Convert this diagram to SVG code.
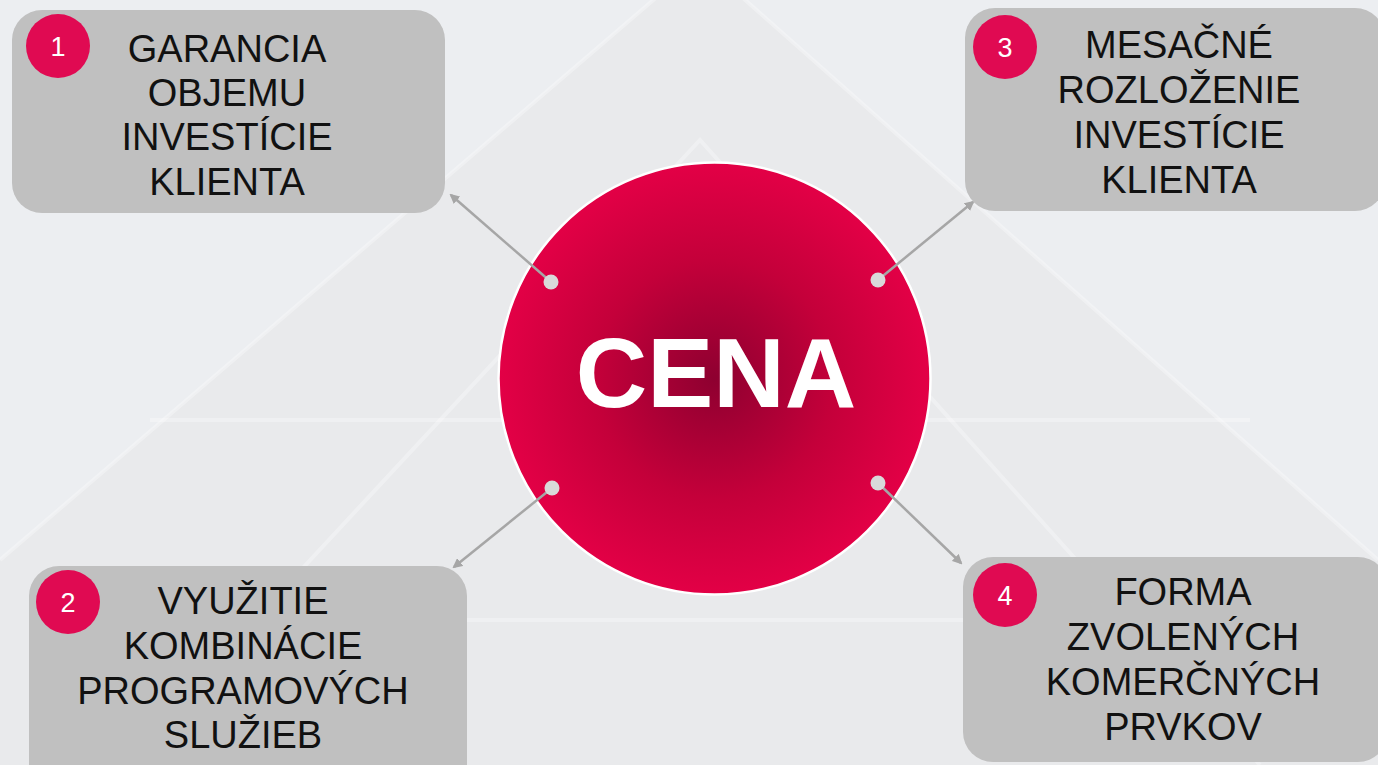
<svg xmlns="http://www.w3.org/2000/svg" width="1378" height="765" viewBox="0 0 1378 765">
<style>
.box{fill:#c0c0c0}
.badge{fill:#e00a52}
.num{font-family:"Liberation Sans",Arial,sans-serif;font-size:27px;fill:#ffffff;text-anchor:middle}
.lbl{font-family:"Liberation Sans",Arial,sans-serif;font-size:38px;fill:#111111;text-anchor:middle}
.conn{stroke:#a6a6a6;stroke-width:2.5;fill:none}
.dot{fill:#d9d9d9}
.bgl{stroke:#ffffff;stroke-opacity:0.3;stroke-width:4;fill:none}
</style>
<defs>
<radialGradient id="cg" cx="50%" cy="50%" r="50%">
<stop offset="0" stop-color="#8e0030"/>
<stop offset="0.55" stop-color="#c4003a"/>
<stop offset="1" stop-color="#e30046"/>
</radialGradient>
<marker id="ah" markerWidth="10" markerHeight="10" refX="8" refY="5" orient="auto" markerUnits="userSpaceOnUse" viewBox="0 0 10 10">
<path d="M0,0 L10,5 L0,10 z" fill="#a6a6a6"/>
</marker>
</defs>
<rect width="1378" height="765" fill="#eceef1"/>
<g id="background">
<polygon points="0,560 700,-40 1378,560 1378,765 0,765" fill="#e6e6e8" opacity="0.5"/>
<polyline class="bgl" points="0,560 700,-40 1378,560"/>
<polyline class="bgl" points="120,765 700,140 1260,765"/>
<line class="bgl" x1="150" y1="420" x2="1250" y2="420" stroke-opacity="0.15"/>
<line class="bgl" x1="60" y1="620" x2="1330" y2="620" stroke-opacity="0.15"/>
</g>
<g id="cena">
<circle cx="714.5" cy="378.5" r="216" fill="url(#cg)" stroke="#ffffff" stroke-width="2.5"/>
<text x="716" y="407" font-family="'Liberation Sans',Arial,sans-serif" font-size="99" font-weight="bold" fill="#ffffff" text-anchor="middle">CENA</text>
</g>
<g id="connectors">
<line class="conn" x1="551" y1="282" x2="451" y2="195" marker-end="url(#ah)"/>
<line class="conn" x1="878" y1="280" x2="973" y2="202" marker-end="url(#ah)"/>
<line class="conn" x1="552" y1="488" x2="454" y2="567" marker-end="url(#ah)"/>
<line class="conn" x1="878" y1="483" x2="961" y2="563" marker-end="url(#ah)"/>
<circle class="dot" cx="551" cy="282" r="7.5"/>
<circle class="dot" cx="878" cy="280" r="7.5"/>
<circle class="dot" cx="552" cy="488" r="7.5"/>
<circle class="dot" cx="878" cy="483" r="7.5"/>
</g>
<g id="node1">
<rect class="box" x="12" y="10" width="433" height="203" rx="30"/>
<circle class="badge" cx="58" cy="46" r="32"/>
<text class="num" x="58" y="56">1</text>
<text class="lbl" x="227" y="62">GARANCIA</text>
<text class="lbl" x="227" y="106">OBJEMU</text>
<text class="lbl" x="227" y="150">INVESTÍCIE</text>
<text class="lbl" x="227" y="195">KLIENTA</text>
</g>
<g id="node3">
<rect class="box" x="965" y="8" width="420" height="203" rx="30"/>
<circle class="badge" cx="1005" cy="47" r="32"/>
<text class="num" x="1005" y="57">3</text>
<text class="lbl" x="1179" y="58">MESAČNÉ</text>
<text class="lbl" x="1179" y="103">ROZLOŽENIE</text>
<text class="lbl" x="1179" y="148">INVESTÍCIE</text>
<text class="lbl" x="1179" y="193">KLIENTA</text>
</g>
<g id="node2">
<rect class="box" x="29" y="566" width="438" height="230" rx="30"/>
<circle class="badge" cx="68" cy="602" r="32"/>
<text class="num" x="68" y="612">2</text>
<text class="lbl" x="243" y="614">VYUŽITIE</text>
<text class="lbl" x="243" y="659">KOMBINÁCIE</text>
<text class="lbl" x="243" y="704">PROGRAMOVÝCH</text>
<text class="lbl" x="243" y="748">SLUŽIEB</text>
</g>
<g id="node4">
<rect class="box" x="963" y="557" width="425" height="205" rx="30"/>
<circle class="badge" cx="1005" cy="595" r="32"/>
<text class="num" x="1005" y="605">4</text>
<text class="lbl" x="1183" y="605">FORMA</text>
<text class="lbl" x="1183" y="650">ZVOLENÝCH</text>
<text class="lbl" x="1183" y="695">KOMERČNÝCH</text>
<text class="lbl" x="1183" y="740">PRVKOV</text>
</g>
</svg>
